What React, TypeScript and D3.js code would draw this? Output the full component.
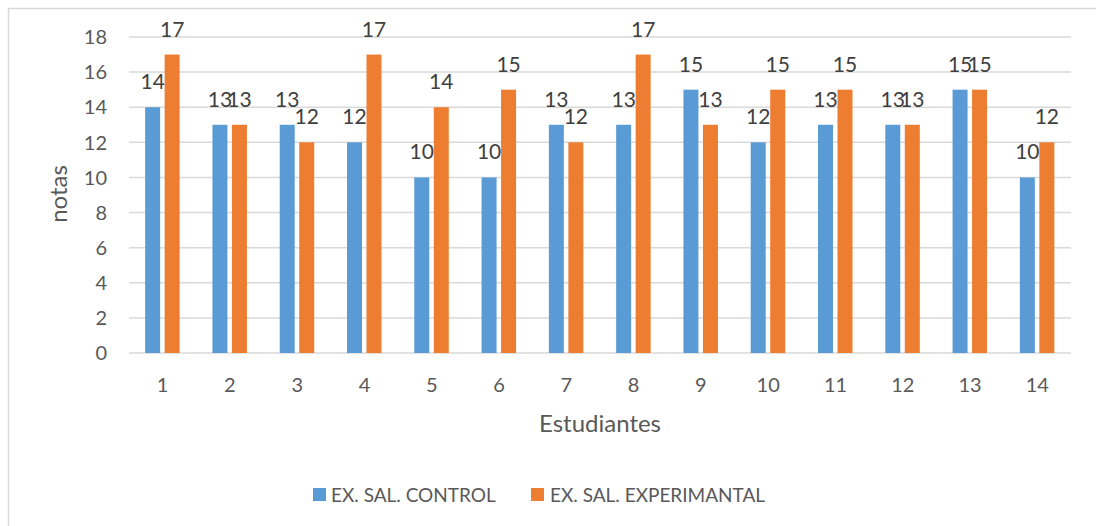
import React from 'react';
import * as d3 from 'd3';

const estudiantes = ['1', '2', '3', '4', '5', '6', '7', '8', '9', '10', '11', '12', '13', '14'];
const control = [14, 13, 13, 12, 10, 10, 13, 13, 15, 12, 13, 13, 15, 10];
const experimental = [17, 13, 12, 17, 14, 15, 12, 17, 13, 15, 15, 13, 15, 12];
const yTicks = [0, 2, 4, 6, 8, 10, 12, 14, 16, 18];
const seriesNames = ['EX. SAL. CONTROL', 'EX. SAL. EXPERIMANTAL'];
const colors = ['#5B9BD5', '#ED7D31'];

const W = 1096, H = 526;
const margin = { top: 37, right: 25, bottom: 173, left: 129 };
const font = 'Lato, "Open Sans", sans-serif';

export default function App() {
    const innerW = W - margin.left - margin.right;
    const innerH = H - margin.top - margin.bottom;

    const x = d3.scaleBand().domain(estudiantes).range([0, innerW]);
    const y = d3.scaleLinear().domain([0, 18]).range([innerH, 0]);

    const barW = 15;
    const half = x.bandwidth() / 2;
    const offsets = [-17.5, 2];
    const series = [control, experimental];

    return (
        <div style={{ position: 'fixed', left: 0, top: 0 }}>
            <svg width={W} height={H} style={{ display: 'block', fontFamily: font }}>
                <rect x={0} y={0} width={W} height={H} fill="#fff" />
                <rect x={8.5} y={8.5} width={1100} height={540} fill="none" stroke="#D9D9D9" strokeWidth={1.5} />
                <g transform={`translate(${margin.left},${margin.top})`}>
                    {yTicks.map(t => (
                        <g key={t}>
                            <line x1={0} x2={innerW} y1={y(t)} y2={y(t)} stroke="#D9D9D9" strokeWidth={1.5} />
                            <text x={-22} y={y(t)} dy="0.36em" textAnchor="end" fontSize={20} fill="#595959">{t}</text>
                        </g>
                    ))}
                    {series.map((vals, si) => (
                        <g key={si}>
                            {vals.map((v, i) => {
                                const bx = (x(estudiantes[i]) as number) + half + offsets[si];
                                return (
                                    <g key={i}>
                                        <rect x={bx} y={y(v)} width={barW} height={innerH - y(v)} fill={colors[si]} />
                                        <text x={bx + barW / 2} y={y(v) - 18} textAnchor="middle" fontSize={21} fill="#404040">{v}</text>
                                    </g>
                                );
                            })}
                        </g>
                    ))}
                    {estudiantes.map(c => (
                        <text key={c} x={(x(c) as number) + half} y={innerH + 39} textAnchor="middle" fontSize={20} fill="#595959">{c}</text>
                    ))}
                </g>
                <text x={600} y={432} textAnchor="middle" fontSize={24} fill="#595959">Estudiantes</text>
                <text transform="translate(67,194) rotate(-90)" textAnchor="middle" fontSize={24} fill="#595959">notas</text>
                <g transform="translate(313,488)">
                    <rect x={0} y={0} width={13} height={13} fill={colors[0]} />
                    <text x={18} y={14} fontSize={19} fill="#595959">{seriesNames[0]}</text>
                    <rect x={218} y={0} width={13} height={13} fill={colors[1]} />
                    <text x={237} y={14} fontSize={19} fill="#595959">{seriesNames[1]}</text>
                </g>
            </svg>
        </div>
    );
}
